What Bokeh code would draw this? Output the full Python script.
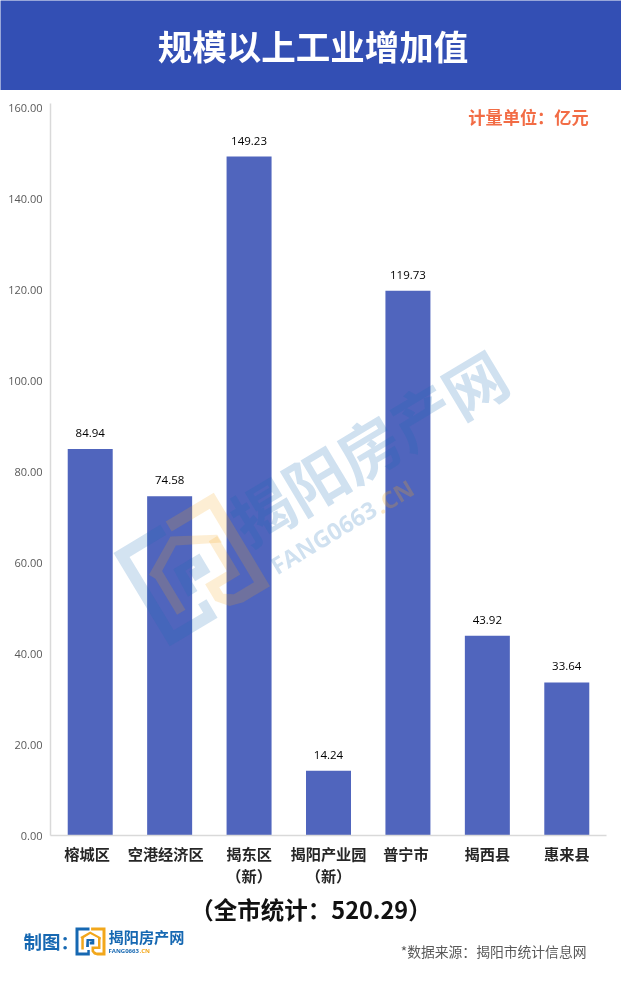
from bokeh.plotting import figure
from bokeh.embed import file_html
from bokeh.resources import INLINE
from bokeh.core.properties import value
from bokeh.models import Range1d, ColumnDataSource, FixedTicker
import math

categories = ["榕城区", "空港经济区", "揭东区\n（新）", "揭阳产业园\n（新）", "普宁市", "揭西县", "惠来县"]
values = [84.94, 74.58, 149.23, 14.24, 119.73, 43.92, 33.64]
y_ticks = [0, 20, 40, 60, 80, 100, 120, 140, 160]
label_ticks = [-0.04, 0.95, 2, 3, 3.975, 5, 6]

CJK = "Noto Sans CJK SC"
BLUE = "#1668b2"
ORANGE = "#f2a71b"

def plain(h, y0, y1, bg="#ffffff"):
    f = figure(width=621, height=h, output_backend="svg", toolbar_location=None,
               x_range=Range1d(0, 621), y_range=Range1d(y1, y0), x_axis_type=None, y_axis_type=None,
               min_border=0, outline_line_color=None, background_fill_color=bg, border_fill_color=bg)
    f.grid.visible = False
    return f

def text(f, x, y, s, size, color, style="normal", font=CJK, align="left", angle=0, alpha=1.0, **kw):
    f.text(x=[x], y=[y], text=[s], text_font=value(font), text_font_size=size, text_color=color,
           text_font_style=style, text_align=align, text_baseline="middle", angle=angle, angle_units="deg",
           text_alpha=alpha, **kw)

# logo shapes in a 30 x 28 local box
BLUE_BRACKET = [(14, 0), (0, 0), (0, 28), (14.3, 28), (14.3, 22.5), (11.8, 22.5), (11.8, 25), (3, 25), (3, 3), (14, 3)]
ORANGE_BRACKET = [(15.6, 0), (30, 0), (30, 28), (22, 28), (18.5, 27), (16, 24), (16, 19), (22.5, 19), (22.5, 10),
                  (25, 10), (25, 21.5), (18.7, 21.5), (18.7, 23.5), (21, 25), (27, 25), (27, 3), (15.6, 3)]
ROOF = [(4.9, 9.5), (14.7, 3.9), (25.2, 9.7), (25.2, 12), (14.7, 6.6), (8.3, 10.4), (8.3, 22), (5.8, 22), (5.8, 11.2)]
CORE = [(11, 11.5), (18.8, 11.5), (18.8, 17), (14.2, 17), (14.2, 14), (16, 14), (16, 13.4), (13.4, 13.4), (13.4, 19.5), (10.6, 19.5)]

def logo(f, ox, oy, scale, deg, alpha, **kw):
    c, s = math.cos(math.radians(deg)), math.sin(math.radians(deg))
    for pts, col in [(BLUE_BRACKET, BLUE), (ORANGE_BRACKET, ORANGE), (ROOF, ORANGE), (CORE, BLUE)]:
        xs = [ox + scale * (x * c - y * s) for x, y in pts]
        ys = [oy + scale * (x * s + y * c) for x, y in pts]
        f.patch(xs, ys, fill_color=col, fill_alpha=alpha, line_color=None, **kw)

# banner
top = plain(90, 0, 90, "#334fb4")
text(top, 312.5, 44, "规模以上工业增加值", "34.5px", "#ffffff", style="bold", align="center")

# main chart
positions = list(range(len(categories)))
p = figure(width=621, height=798, output_backend="svg", toolbar_location=None,
           x_range=Range1d(-0.5, len(categories) - 0.5),
           y_range=Range1d(0, 160.9), min_border_left=50, min_border_right=15,
           min_border_top=13, min_border_bottom=52, outline_line_color=None)
p.grid.visible = False
p.extra_x_ranges["px"] = Range1d(50, 606)
p.extra_y_ranges["px"] = Range1d(836, 103)

src = ColumnDataSource(dict(pos=positions, val=values, lab=[f"{v:.2f}" for v in values]))
p.vbar(x="pos", top="val", width=0.5665, source=src, fill_color="#5065bd", line_color=None)
p.text(x="pos", y="val", text="lab", source=src, text_font_size="11.5px", text_color="#000000",
       text_align="center", text_baseline="middle", y_offset=-16, text_font=value("Open Sans"))

ax = p.yaxis[0]
ax.ticker = FixedTicker(ticks=y_ticks)
ax.major_label_overrides = {t: f"{t:.2f}" for t in y_ticks}
ax.major_tick_out = 0
ax.major_tick_in = 0
ax.minor_tick_out = 0
ax.minor_tick_in = 0
ax.axis_line_color = "#d9d9d9"
ax.axis_line_width = 1.5
ax.major_label_text_font = "Open Sans"
ax.major_label_text_font_size = "11px"
ax.major_label_text_color = "#595959"
ax.major_label_standoff = 8

bx = p.xaxis[0]
bx.ticker = FixedTicker(ticks=label_ticks)
bx.major_label_overrides = dict(zip(label_ticks, categories))
bx.major_tick_out = 0
bx.major_tick_in = 0
bx.minor_tick_out = 0
bx.minor_tick_in = 0
bx.axis_line_color = "#d9d9d9"
bx.axis_line_width = 1.5
bx.major_label_text_font = CJK
bx.major_label_text_font_style = "bold"
bx.major_label_text_font_size = "15.2px"
bx.major_label_text_line_height = 1.0
bx.major_label_text_color = "#262626"
bx.major_label_standoff = 6
bx.major_label_orientation = "horizontal"

px = dict(x_range_name="px", y_range_name="px")
text(p, 528, 116.5, "计量单位：亿元", "17.2px", "#f26c45", style="bold", align="center", **px)
logo(p, 113, 553, 3.9, -31, 0.19, **px)
text(p, 367, 446, "揭阳房产网", "62px", BLUE, style="bold", align="center", angle=31, alpha=0.2, **px)
text(p, 272, 568, "FANG0663", "23.5px", BLUE, style="bold", font="Open Sans", angle=31, alpha=0.2, **px)
text(p, 376, 507, ".CN", "23.5px", ORANGE, style="bold", font="Open Sans", angle=31, alpha=0.25, **px)

# footer
bot = plain(95, 888, 983)
text(bot, 310.5, 908.5, "（全市统计：520.29）", "23.5px", "#111111", style="bold", align="center")
text(bot, 23, 940, "制图：", "18.5px", BLUE, style="bold")
logo(bot, 75, 927, 1.0, 0, 1.0)
text(bot, 108, 935.5, "揭阳房产网", "15.2px", BLUE, style="bold")
text(bot, 108, 950.5, "FANG0663", "6px", BLUE, style="bold", font="Open Sans")
text(bot, 139, 950.5, ".CN", "6px", ORANGE, style="bold", font="Open Sans")
text(bot, 586, 950, "*数据来源：揭阳市统计信息网", "13.8px", "#595959", align="right")

for fig, y in [(top, 0), (p, 90), (bot, 888)]:
    fig.styles = {"position": "fixed", "left": "0px", "top": f"{y}px"}
open("out.html", "w").write(file_html((top, p, bot), INLINE))
